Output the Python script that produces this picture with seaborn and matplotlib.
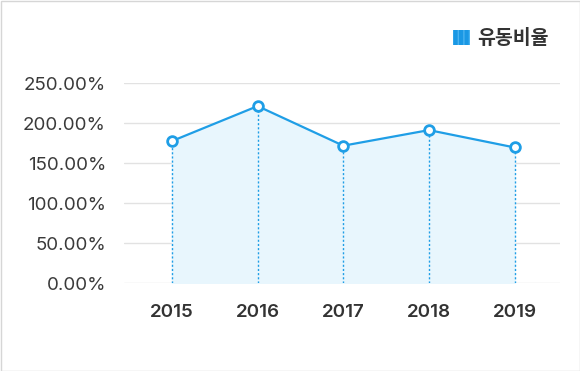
import matplotlib
matplotlib.use('Agg')
import matplotlib.pyplot as plt
import matplotlib.ticker as mticker
from matplotlib.patches import Patch, Rectangle
import seaborn as sns
import pandas as pd

# ── data ─────────────────────────────────────────────
years  = [2015, 2016, 2017, 2018, 2019]
ratio  = [177.8, 221.5, 172.0, 191.5, 169.8]   # 유동비율 (%)
yticks = [0, 50, 100, 150, 200, 250]
series = '유동비율'

LINE = '#1f9ee6'
FILL = '#e8f6fd'

df = pd.DataFrame({'year': years, 'ratio': ratio})

sns.set_theme(style='white')
plt.rcParams['font.family'] = ['Inter', 'Noto Sans CJK KR', 'DejaVu Sans']
plt.rcParams['hatch.linewidth'] = 1.0

fig = plt.figure(figsize=(5.8, 3.71), dpi=100)
ax = fig.add_axes([124/580, 1-283.3/371, (560-124)/580, 200/371])

# area + dotted drops
ax.fill_between(df['year'], 0, df['ratio'], color=FILL, zorder=1)
ax.vlines(df['year'], 0, df['ratio'], colors=LINE, linestyles=(0, (1.5, 1.5)), linewidth=1, zorder=2)

sns.lineplot(data=df, x='year', y='ratio', ax=ax, color=LINE, linewidth=1.6,
             marker='o', markersize=7, markerfacecolor='white',
             markeredgecolor=LINE, markeredgewidth=2, zorder=4)

ax.set_xlim(years[0] - 0.56, years[-1] + 0.53)
ax.set_ylim(0, yticks[-1])
ax.set_xticks(years)
ax.set_xticklabels([str(y) for y in years], fontsize=13.5, fontweight='semibold', color='#333333')
ax.set_yticks(yticks)
ax.yaxis.set_major_formatter(mticker.FuncFormatter(lambda v, _: f'{v:.2f}%'))
for t in ax.get_yticklabels():
    t.set_fontsize(13.5)
    t.set_color('#3a3a3a')
ax.tick_params(axis='y', length=0, pad=13)
ax.tick_params(axis='x', length=0, pad=15)
ax.grid(axis='y', color='#e2e2e2', linewidth=1)
ax.set_axisbelow(True)
for s in ax.spines.values():
    s.set_visible(False)
ax.set_xlabel('')
ax.set_ylabel('')
ax.patch.set_alpha(0)

# legend
h = Patch(facecolor='#1a98e4', edgecolor='#4ab3f0', hatch='|||', linewidth=0)
fig.legend([h], [series], loc='upper right', bbox_to_anchor=(549/580, 1-29/371),
           frameon=False, borderpad=0, borderaxespad=0, handlelength=0.85, handleheight=0.85,
           handletextpad=0.4, prop={'family': ['Noto Sans CJK KR'], 'weight': 'bold', 'size': 14},
           labelcolor='#333333')

# outer border
fig.patches.append(Rectangle((0.5/580, 0.5/371), 1-1/580, 1-1/371, transform=fig.transFigure,
                             fill=False, edgecolor='#d6d6d6', linewidth=1))

fig.savefig('out.png', dpi=100)
